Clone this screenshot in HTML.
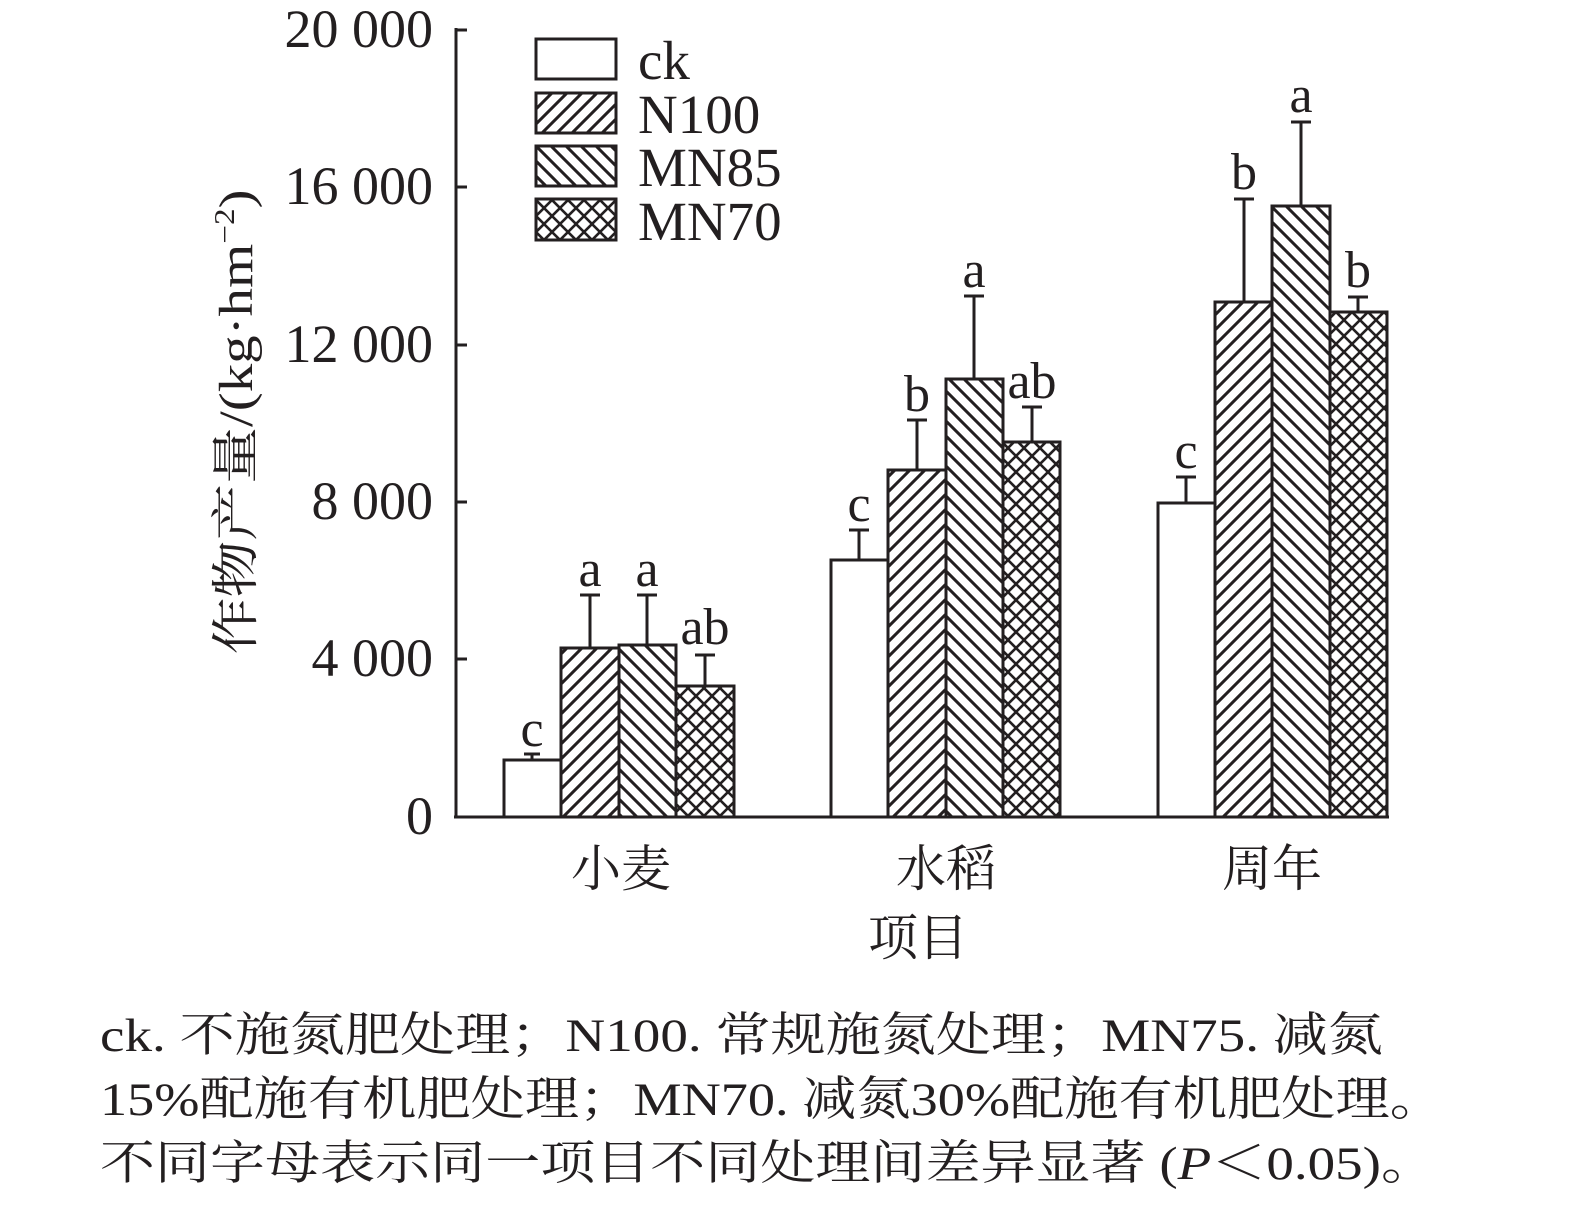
<!DOCTYPE html>
<html><head><meta charset="utf-8"><style>
html,body{margin:0;padding:0;background:#fff;}
svg text{font-family:"Liberation Serif","Noto Serif CJK SC","Noto Sans CJK SC",serif;fill:#231f20;}
</style></head><body>
<svg width="1575" height="1206" viewBox="0 0 1575 1206" xmlns="http://www.w3.org/2000/svg">
<defs>
<pattern id="fw" patternUnits="userSpaceOnUse" width="15" height="15">
<path d="M-4,19 L19,-4 M-4,4 L4,-4 M11,19 L19,11" stroke="#231f20" stroke-width="3"/>
</pattern>
<pattern id="bw" patternUnits="userSpaceOnUse" width="15" height="15">
<path d="M-4,-4 L19,19 M11,-4 L19,4 M-4,11 L4,19" stroke="#231f20" stroke-width="3"/>
</pattern>
<pattern id="xx" patternUnits="userSpaceOnUse" width="16" height="16">
<path d="M-4,-4 L20,20 M12,-4 L20,4 M-4,12 L4,20 M-4,20 L20,-4 M-4,4 L4,-4 M12,20 L20,12" stroke="#231f20" stroke-width="2.6"/>
</pattern>
</defs>
<g stroke="#231f20" stroke-width="3" fill="none">
<line x1="456" y1="28" x2="456" y2="818"/>
<line x1="454" y1="817" x2="1389" y2="817"/>
<line x1="456" y1="30" x2="467" y2="30"/>
<line x1="456" y1="187" x2="467" y2="187"/>
<line x1="456" y1="345" x2="467" y2="345"/>
<line x1="456" y1="502" x2="467" y2="502"/>
<line x1="456" y1="659" x2="467" y2="659"/>
<path d="M532,760V754M524,754H540 M590,648V595M580,595H600 M647,645V595M637,595H657 M705,686V655M695,655H715
M859,560V530M849,530H869 M917,470V420M907,420H927 M974,379V296M964,296H984 M1032,442V407M1022,407H1042
M1186,503V477M1176,477H1196 M1244,302V199M1234,199H1254 M1301,206V122M1291,122H1311 M1358,312V297M1348,297H1368"/>
<rect x="504" y="760" width="57" height="57" fill="#fff"/>
<rect x="561" y="648" width="58" height="169" fill="url(#fw)"/>
<rect x="619" y="645" width="57" height="172" fill="url(#bw)"/>
<rect x="676" y="686" width="58" height="131" fill="url(#xx)"/>
<rect x="831" y="560" width="57" height="257" fill="#fff"/>
<rect x="888" y="470" width="58" height="347" fill="url(#fw)"/>
<rect x="946" y="379" width="57" height="438" fill="url(#bw)"/>
<rect x="1003" y="442" width="57" height="375" fill="url(#xx)"/>
<rect x="1158" y="503" width="57" height="314" fill="#fff"/>
<rect x="1215" y="302" width="57" height="515" fill="url(#fw)"/>
<rect x="1272" y="206" width="58" height="611" fill="url(#bw)"/>
<rect x="1330" y="312" width="57" height="505" fill="url(#xx)"/>
<rect x="536" y="39" width="80" height="40" fill="#fff"/>
<rect x="536" y="93" width="80" height="40" fill="url(#fw)"/>
<rect x="536" y="146" width="80" height="40" fill="url(#bw)"/>
<rect x="536" y="199" width="80" height="41" fill="url(#xx)"/>
</g>
<g font-size="55">
<text x="638" y="79">ck</text>
<text x="638" y="133">N100</text>
<text x="638" y="186">MN85</text>
<text x="638" y="240">MN70</text>
</g>
<g font-size="54" text-anchor="end">
<text x="433" y="47">20 000</text>
<text x="433" y="204">16 000</text>
<text x="433" y="362">12 000</text>
<text x="433" y="519">8 000</text>
<text x="433" y="676">4 000</text>
<text x="433" y="834">0</text>
</g>
<g font-size="52" text-anchor="middle">
<text x="532" y="746">c</text>
<text x="590" y="586">a</text>
<text x="647" y="586">a</text>
<text x="705" y="644">ab</text>
<text x="859" y="521">c</text>
<text x="917" y="411">b</text>
<text x="974" y="287">a</text>
<text x="1032" y="398">ab</text>
<text x="1186" y="468">c</text>
<text x="1244" y="189">b</text>
<text x="1301" y="112">a</text>
<text x="1358" y="287">b</text>
</g>
<g font-size="50" text-anchor="middle">
<text x="621" y="886">小麦</text>
<text x="946" y="886">水稻</text>
<text x="1272" y="886">周年</text>
<text x="918" y="955">项目</text>
</g>
<text transform="translate(252,422) rotate(-90)" font-size="48" text-anchor="middle" textLength="465" lengthAdjust="spacingAndGlyphs">作物产量/(kg·hm<tspan font-size="28" dy="-18">−2</tspan><tspan dy="18">)</tspan></text>
<g font-size="47">
<text x="100" y="1051" textLength="1283" lengthAdjust="spacingAndGlyphs">ck. 不施氮肥处理；N100. 常规施氮处理；MN75. 减氮</text>
<text x="100" y="1115" textLength="1344" lengthAdjust="spacingAndGlyphs">15%配施有机肥处理；MN70. 减氮30%配施有机肥处理。</text>
<text x="100" y="1179" textLength="1336" lengthAdjust="spacingAndGlyphs">不同字母表示同一项目不同处理间差异显著 (<tspan font-style="italic">P</tspan>＜0.05)。</text>
</g>
</svg>
</body></html>
